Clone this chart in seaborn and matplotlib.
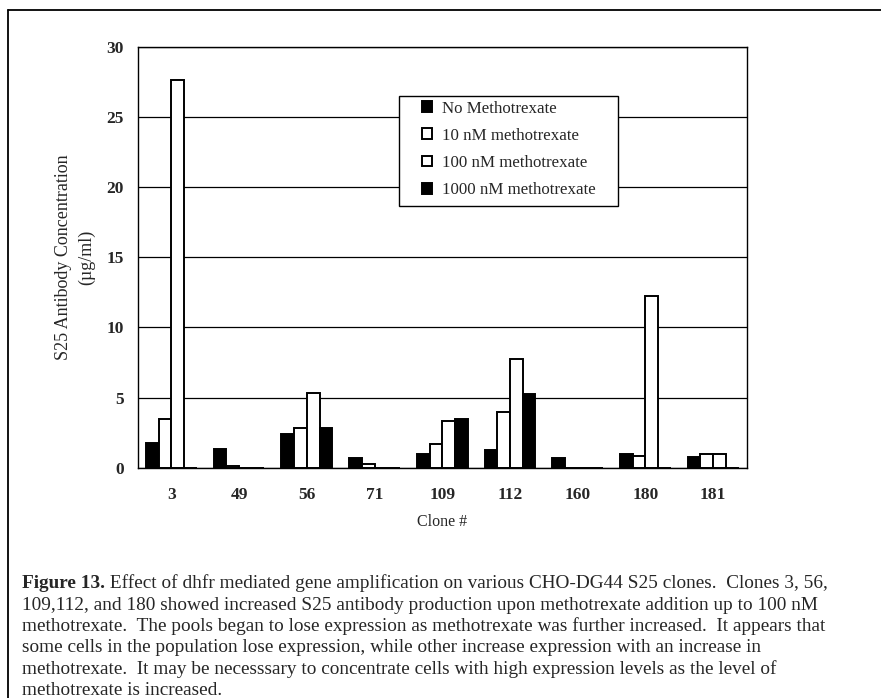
import matplotlib
matplotlib.use("Agg")
import matplotlib.pyplot as plt
import seaborn as sns
import pandas as pd
from matplotlib.lines import Line2D
from matplotlib.patches import Rectangle

# ---- data ----
clones = ["3", "49", "56", "71", "109", "112", "160", "180", "181"]
series = ["No Methotrexate", "10 nM methotrexate", "100 nM methotrexate", "1000 nM methotrexate"]
no_mtx = [1.74, 1.31, 2.38, 0.67, 0.95, 1.24, 0.71, 0.95, 0.79]
nm10 = [3.45, 0.12, 2.86, 0.29, 1.67, 4.00, 0.0, 0.83, 0.95]
nm100 = [27.6, 0.0, 5.31, 0.0, 3.33, 7.74, 0.0, 12.26, 0.95]
nm1000 = [0.0, 0.0, 2.81, 0.0, 3.45, 5.24, 0.0, 0.0, 0.0]
y_ticks = [0, 5, 10, 15, 20, 25, 30]
colors = ["black", "white", "white", "black"]

caption_lines = [
    " Effect of dhfr mediated gene amplification on various CHO-DG44 S25 clones.  Clones 3, 56,",
    "109,112, and 180 showed increased S25 antibody production upon methotrexate addition up to 100 nM",
    "methotrexate.  The pools began to lose expression as methotrexate was further increased.  It appears that",
    "some cells in the population lose expression, while other increase expression with an increase in",
    "methotrexate.  It may be necesssary to concentrate cells with high expression levels as the level of",
    "methotrexate is increased.",
]

rows = []
for s, vals in zip(series, [no_mtx, nm10, nm100, nm1000]):
    for c, v in zip(clones, vals):
        rows.append({"Clone": c, "Series": s, "Value": v})
df = pd.DataFrame(rows)

sns.set_theme(style="white")
plt.rcParams["font.family"] = ["Liberation Serif", "DejaVu Serif"]

W, H = 881, 698
fig = plt.figure(figsize=(W / 100, H / 100), dpi=100)
fig.patch.set_facecolor("white")
ax = fig.add_axes([137.5 / W, 1 - 467.7 / H, 609.5 / W, 421.0 / H])
ax.set_facecolor("white")

sns.barplot(data=df, x="Clone", y="Value", hue="Series", order=clones, hue_order=series,
            palette=colors, edgecolor="black", linewidth=1.4, width=0.75, ax=ax,
            saturation=1)

ax.set_ylim(0, 30)
ax.set_xlim(-0.5, len(clones) - 0.5)
ax.set_yticks(y_ticks)
ax.set_yticklabels([str(t) for t in y_ticks], fontsize=12.5, fontweight="bold")
ax.set_xticks(range(len(clones)))
ax.set_xticklabels(clones, fontsize=12.5, fontweight="bold")
ax.set_xticks([i - 0.5 for i in range(len(clones) + 1)], minor=True)
ax.tick_params(axis="x", which="major", length=0, pad=14)
ax.tick_params(axis="x", which="minor", length=4, width=1, direction="out", color="black")
ax.tick_params(axis="y", which="major", length=4, width=1, direction="out", color="black", pad=6)
ax.yaxis.grid(True, color="black", linewidth=0.9)
ax.xaxis.grid(False)
ax.set_axisbelow(True)
for sp in ax.spines.values():
    sp.set_visible(True)
    sp.set_color("black")
    sp.set_linewidth(1.0)

ax.set_xlabel("Clone #", fontsize=11.5, labelpad=8)
ax.set_ylabel("S25 Antibody Concentration\n(\u00b5g/ml)", fontsize=13, va="center",
              linespacing=1.45)
ax.yaxis.set_label_coords(-0.102, 0.5)

handles, labels = ax.get_legend_handles_labels()
if ax.get_legend() is not None:
    ax.get_legend().remove()

# legend frame (Excel-like box with wide side padding)
box = Rectangle((0.429, 0.6216), 0.359, 0.2614, transform=ax.transAxes,
                facecolor="white", edgecolor="black", linewidth=1.0, zorder=4)
ax.add_patch(box)
leg = ax.legend(handles, labels, loc="upper left", bbox_to_anchor=(0.466, 0.872),
                frameon=False, fontsize=12.2, handlelength=0.6, handleheight=0.6,
                handletextpad=0.6, labelspacing=0.66, borderpad=0, borderaxespad=0)
leg.set_zorder(6)

# outer frame lines (left and top)
fig.add_artist(Line2D([8 / W, 8 / W], [0, 1 - 10 / H], transform=fig.transFigure, color="black", lw=1.3))
fig.add_artist(Line2D([8 / W, 1], [1 - 10 / H, 1 - 10 / H], transform=fig.transFigure, color="black", lw=1.3))

# caption
cap_fs = 13.9
x0 = 22
ys = [588, 609.5, 631, 652.5, 674, 695]
fig.canvas.draw()
r = fig.canvas.get_renderer()
t = fig.text(x0 / W, 1 - ys[0] / H, "Figure 13.", fontsize=cap_fs, fontweight="bold", va="baseline", ha="left")
bb = t.get_window_extent(renderer=r)
fig.text(bb.x1 / W, 1 - ys[0] / H, caption_lines[0], fontsize=cap_fs, va="baseline", ha="left")
for line, y in zip(caption_lines[1:], ys[1:]):
    fig.text(x0 / W, 1 - y / H, line, fontsize=cap_fs, va="baseline", ha="left")

fig.savefig("out.png", dpi=100, facecolor="white")
